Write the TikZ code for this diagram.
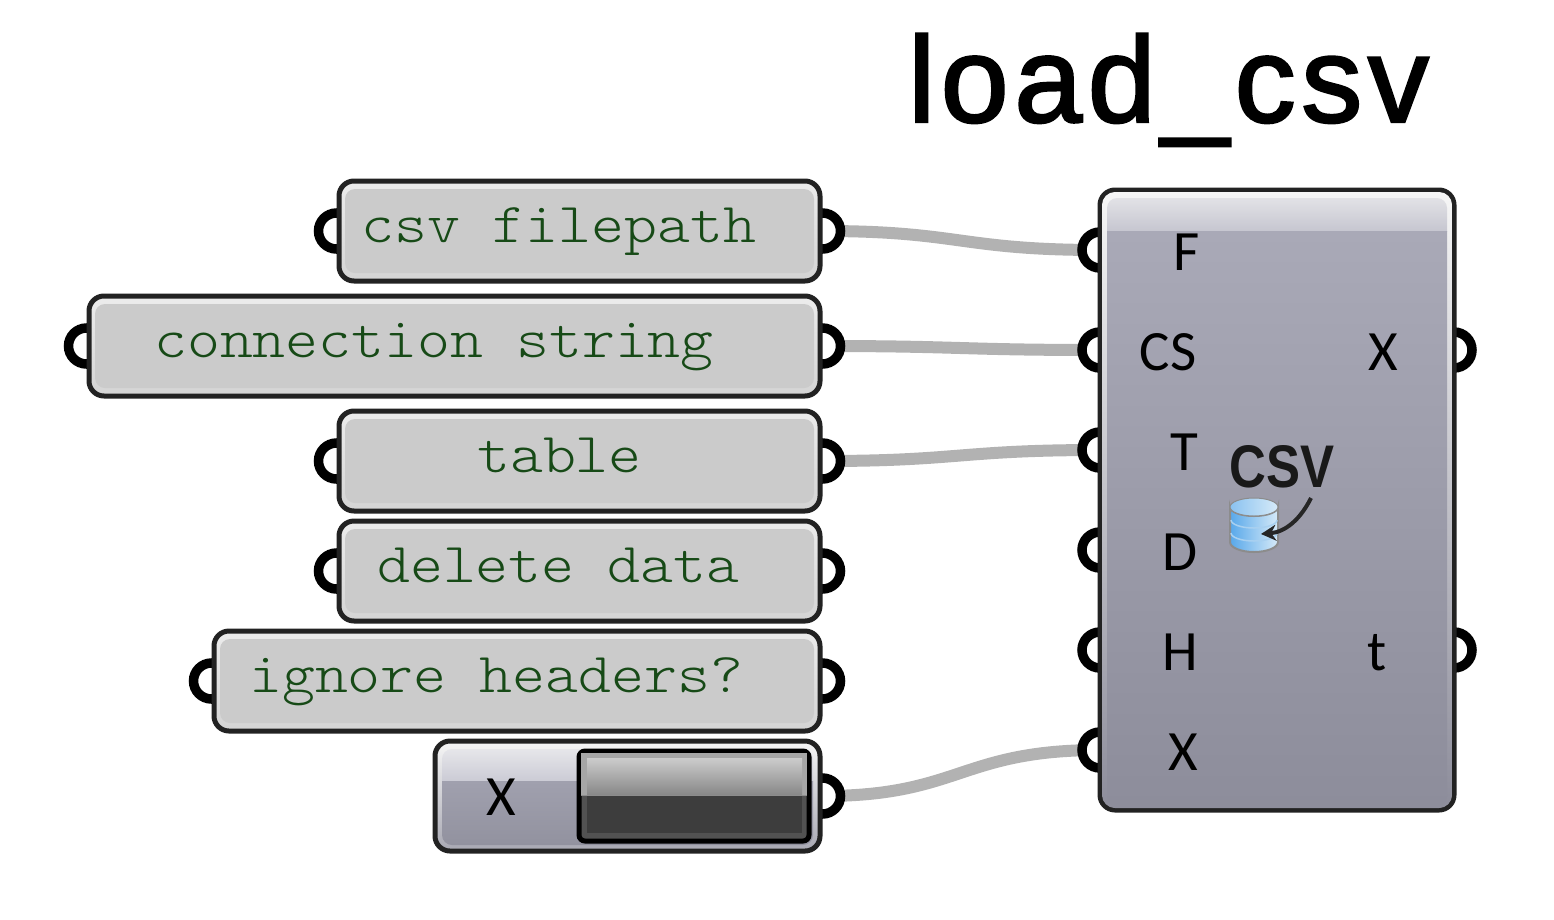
\documentclass[tikz,border=0pt]{standalone}
\usepackage{fontspec}
\usepackage{graphicx}
\usetikzlibrary{arrows.meta}
\newfontfamily\titlefont[LetterSpace=4.6]{Liberation Sans}
\newfontfamily\labelfont{Carlito}
\newfontfamily\iconfont{Liberation Sans}
\newfontfamily\monofont{Latin Modern Mono Light}
\newcommand{\monosq}[1]{\scalebox{1}[0.9]{#1}}
\definecolor{gredge}{HTML}{222222}
\definecolor{grtext}{HTML}{174A17}
\definecolor{grwire}{HTML}{B2B2B2}
\definecolor{panelfill}{HTML}{CBCBCB}
\definecolor{paneltop}{HTML}{ECECEC}
\definecolor{panelbot}{HTML}{D4D4D4}
\definecolor{hdtop}{HTML}{E2E2E6}
\definecolor{hdbot}{HTML}{C6C6D0}
\definecolor{bodytop}{HTML}{A9A9B7}
\definecolor{bodybot}{HTML}{8D8D9B}
\definecolor{bodyedge}{HTML}{F6F6F6}
\definecolor{slbodytop}{HTML}{A0A0AE}
\definecolor{slbodybot}{HTML}{92929F}
\definecolor{slhdtop}{HTML}{E6E6EA}
\definecolor{slhdbot}{HTML}{CBCBD5}
\definecolor{dbleft}{HTML}{58A8EA}
\definecolor{dbright}{HTML}{D6EAF8}
\definecolor{dbline}{HTML}{A8D0F0}
\pgfdeclarelayer{wirelayer}
\pgfdeclarelayer{portlayer}
\pgfsetlayers{wirelayer,portlayer,main}
\tikzset{
  boxshape/.style={draw=gredge,line width=5pt,rounded corners=15pt,inner sep=0pt,rectangle},
  portring/.style={circle,draw=black,line width=9.5pt,fill=white,minimum size=36pt,inner sep=0pt},
  wire/.style={draw=grwire,line width=12pt},
  monotext/.style={anchor=base west,inner sep=0pt,text=grtext,font=\monofont\fontsize{62.7}{64}\selectfont},
  porttext/.style={inner sep=0pt,anchor=base,text=black,font=\labelfont\fontsize{57}{57}\selectfont},
}
\newcommand{\greypanel}[5]{%
  \pgfmathsetmacro{\pw}{#4-#2}\pgfmathsetmacro{\ph}{#5-#3}%
  \node[boxshape,top color=paneltop,bottom color=panelbot,minimum width=\pw pt,minimum height=\ph pt] (#1) at ({(#2+#4)/2},{(#3+#5)/2}) {};
  \fill[rounded corners=10pt,fill=panelfill] (#2+6,#3+8) rectangle (#4-6,#5-8);
}
\begin{document}
\begin{tikzpicture}[x=1pt,y=-1pt]
\useasboundingbox (0,0) rectangle (1554,919);
% text panels
\greypanel{fp}{339}{181}{820}{281}
\greypanel{cs}{89}{296}{820}{396}
\greypanel{tb}{339}{411}{820}{511}
\greypanel{dd}{339}{521}{820}{621}
\greypanel{ih}{214}{631}{820}{731}
\node[monotext] (tfp) at (361,242) {\monosq{csv filepath}};
\node[monotext] (tcs) at (154,357) {\monosq{connection string}};
\node[monotext] (ttb) at (477,472) {\monosq{table}};
\node[monotext] (tdd) at (377,582) {\monosq{delete data}};
\node[monotext] (tih) at (249,692) {\monosq{ignore headers?}};
% slider
\node[boxshape,top color=bodyedge,bottom color=slbodybot!80!white,minimum width=385pt,minimum height=110pt] (sl) at (627.5,796) {};
\begin{scope}
\clip[rounded corners=10pt] (442,749) rectangle (813,845);
\shade[top color=slhdtop,bottom color=slhdbot] (442,749) rectangle (813,781);
\shade[top color=slbodytop,bottom color=slbodybot] (442,781) rectangle (813,845);
\end{scope}
\node[inner sep=0pt,anchor=base,text=black,font=\labelfont\fontsize{57}{57}\selectfont] (tsl) at (501,815) {X};
\node[draw=black,line width=5pt,rounded corners=6pt,fill=black!68,minimum width=230pt,minimum height=90pt,inner sep=0pt] (tg) at (694,796) {};
\fill[black!35] (581,753) rectangle (807,795);
\shade[top color=black!20,bottom color=black!47] (587,758) rectangle (802,795);
\fill[black!76] (587,795) rectangle (802,833);
\fill[black!45] (581,794.5) rectangle (807,796);
% component
\node[boxshape,fill=white,minimum width=354pt,minimum height=620pt] (comp) at (1277,500) {};
\begin{scope}
\clip[rounded corners=13pt] (1102,192) rectangle (1452,808);
\shade[top color=bodyedge,bottom color=bodybot] (1102,192) rectangle (1452,808);
\end{scope}
\begin{scope}
\clip[rounded corners=10pt] (1107,198) rectangle (1447,806);
\shade[top color=hdtop,bottom color=hdbot] (1107,198) rectangle (1447,231);
\shade[top color=bodytop,bottom color=bodybot] (1107,231) rectangle (1447,806);
\end{scope}
\node[porttext] (lf) at (1187,270) {F};
\node[porttext] (lcs) at (1168,370) {CS};
\node[porttext] (lt) at (1184,470) {T};
\node[porttext] (ld) at (1180,570) {D};
\node[porttext] (lh) at (1180,670) {H};
\node[porttext] (lxi) at (1183,770) {X};
\node[porttext] (lxo) at (1383,370) {X};
\node[porttext] (lto) at (1377,670) {t};
% icon
\node[inner sep=0pt,anchor=base,text=black!90,font=\iconfont\bfseries\fontsize{51}{51}\selectfont] (icon) at (1282,487) {\scalebox{1}[1.18]{CSV}};
\shade[left color=dbleft,right color=dbright,draw=black!45,line width=2pt] (1230,507) arc[start angle=180,end angle=360,x radius=24pt,y radius=9pt] -- (1278,542) arc[start angle=0,end angle=-180,x radius=24pt,y radius=10pt] -- cycle;
\shade[left color=dbleft!70!white,right color=dbright,draw=black!45,line width=1pt] (1254,507) ellipse[x radius=24pt,y radius=9pt];
\draw[dbline,line width=1.5pt] (1231,520) arc[start angle=180,end angle=360,x radius=23pt,y radius=8pt];
\draw[dbline,line width=1.5pt] (1231,533) arc[start angle=180,end angle=360,x radius=23pt,y radius=8pt];
\draw[black!85,line width=4pt,-{Stealth[length=15pt,width=16pt]}] (1311,498) .. controls (1300,520) and (1285,532) .. (1261,534);
% ports
\begin{pgfonlayer}{portlayer}
\node[portring] (fpl) at (fp.west) {};
\node[portring] (fpr) at (fp.east) {};
\node[portring] (csl) at (cs.west) {};
\node[portring] (csr) at (cs.east) {};
\node[portring] (tbl) at (tb.west) {};
\node[portring] (tbr) at (tb.east) {};
\node[portring] (ddl) at (dd.west) {};
\node[portring] (ddr) at (dd.east) {};
\node[portring] (ihl) at (ih.west) {};
\node[portring] (ihr) at (ih.east) {};
\node[portring] (slr) at (sl.east) {};
\node[portring] (cf) at (1100,250) {};
\node[portring] (ccs) at (1100,350) {};
\node[portring] (ct) at (1100,450) {};
\node[portring] (cd) at (1100,550) {};
\node[portring] (ch) at (1100,650) {};
\node[portring] (cx) at (1100,750) {};
\node[portring] (ox) at (1454,350) {};
\node[portring] (ot) at (1454,650) {};
\end{pgfonlayer}
% wires
\begin{pgfonlayer}{wirelayer}
\draw[wire] (fpr.center) .. controls (960,231) and (960,250) .. (cf.center);
\draw[wire] (csr.center) .. controls (960,346) and (960,350) .. (ccs.center);
\draw[wire] (tbr.center) .. controls (960,461) and (960,450) .. (ct.center);
\draw[wire] (slr.center) .. controls (960,796) and (960,750) .. (cx.center);
\end{pgfonlayer}
% title
\node[inner sep=0pt,anchor=base west,text=black,font=\titlefont\fontsize{122}{122}\selectfont] (title) at (908,122) {\special{pdf:code q 2 Tr 2.4 w 0 0 0 RG}load\_csv\special{pdf:code Q}};
\end{tikzpicture}
\end{document}
